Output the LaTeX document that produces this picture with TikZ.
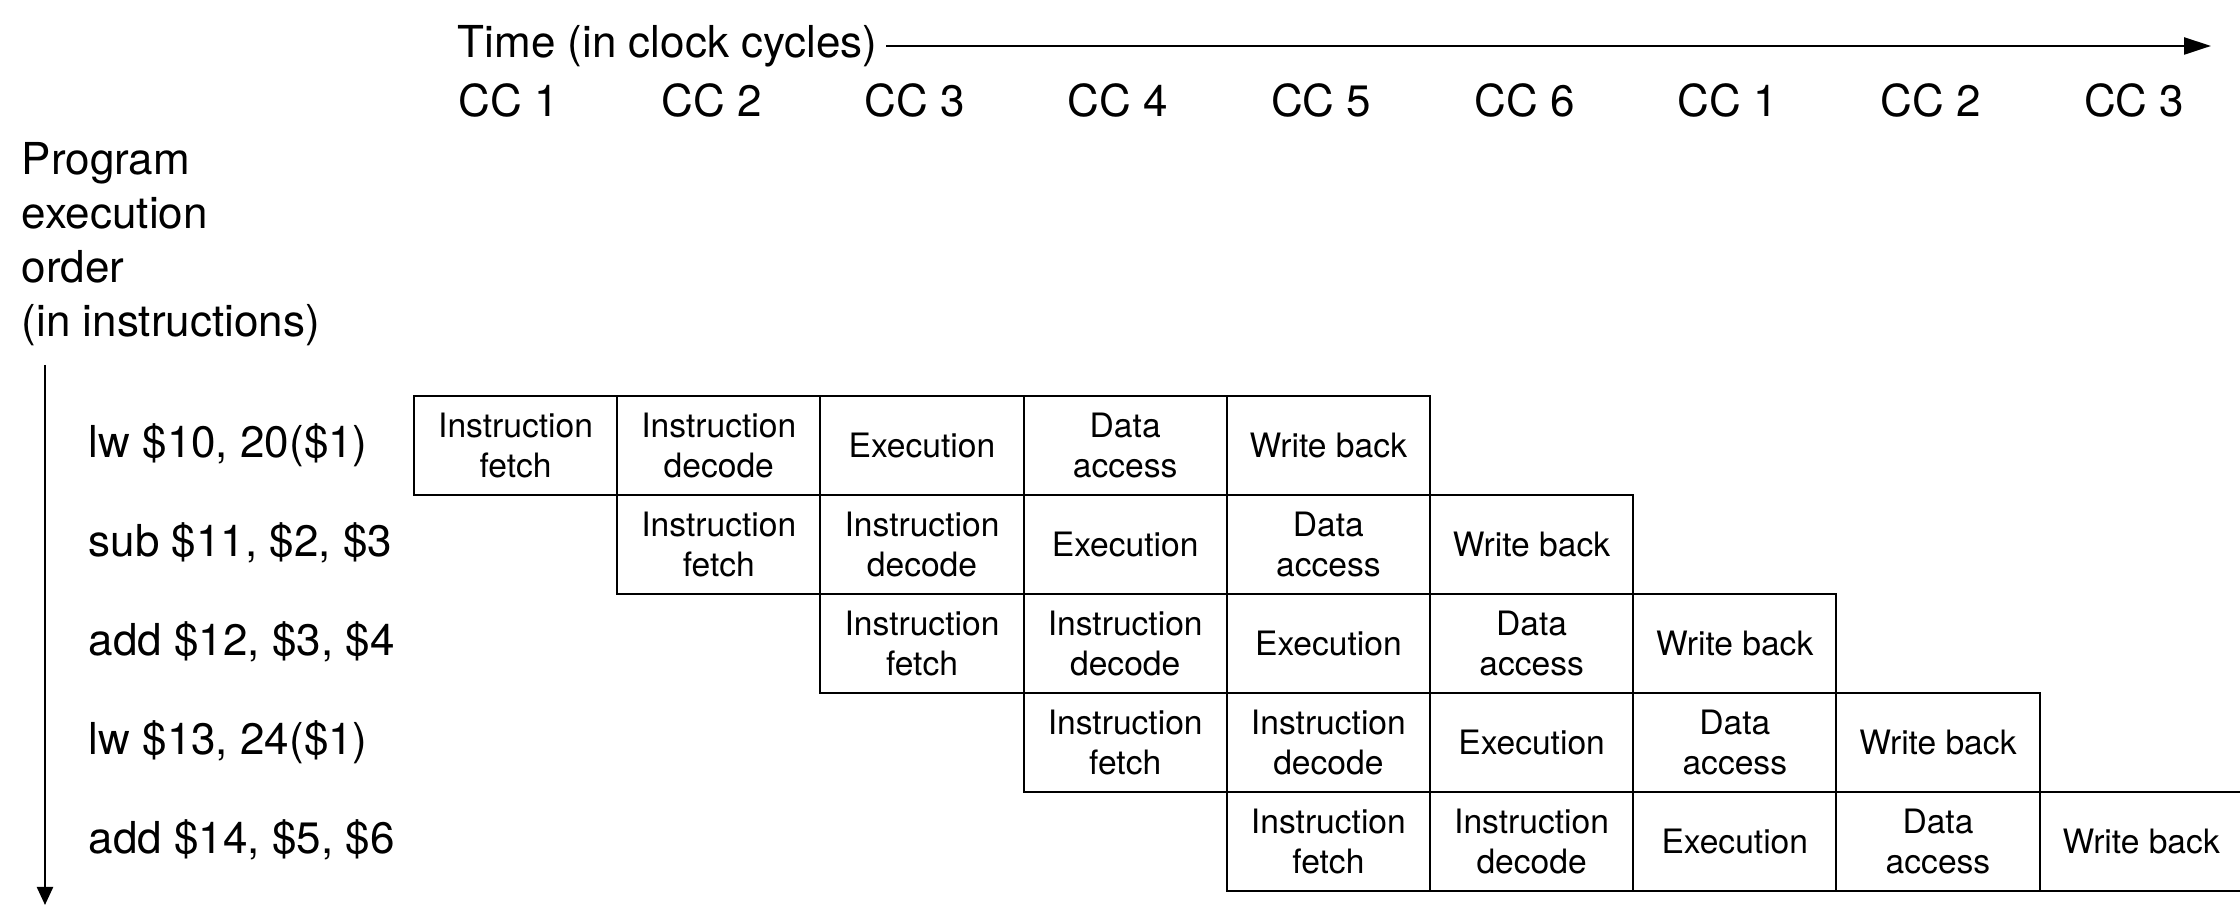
\documentclass[tikz,border=0pt]{standalone}
\usepackage{fontspec}
\setmainfont{TeX Gyre Heros}
\usetikzlibrary{arrows.meta}
\begin{document}
\begin{tikzpicture}[x=0.25pt,y=-0.25pt,
  lbl/.style={font=\fontsize{11}{13.5}\selectfont, inner sep=0pt},
  cc/.style={lbl, anchor=base},
  instr/.style={lbl, anchor=base west},
  stagebox/.style={draw, line width=0.5pt, minimum width=50.8pt, minimum height=24.75pt,
    inner sep=0pt, align=center, font=\fontsize{8.4}{10}\selectfont},
  axis/.style={line width=0.6pt}]
\useasboundingbox (0,0) rectangle (2240,905);

% time axis
\node[lbl, anchor=base west] (time) at (457,58) {Time (in clock cycles)};
\coordinate (tend) at (2211,46);
\draw[axis, -{Triangle[length=6.75pt,width=4.25pt]}] ([xshift=2pt]time.east |- tend) -- (tend);

% clock cycle labels
\foreach \t [count=\i from 0] in {CC 1,CC 2,CC 3,CC 4,CC 5,CC 6,CC 1,CC 2,CC 3}
  \node[cc] (cc\i) at ({508.5+203.2*\i},117) {\t};

% program order label
\node[lbl, anchor=base west] (order) at (21,175)
  {\begin{tabular}[t]{@{}l@{}}Program\\execution\\order\\(in instructions)\end{tabular}};
\coordinate (vtop) at (45,365);
\coordinate (vbot) at (45,905);
\draw[axis, -{Triangle[length=4.5pt,width=4pt]}] (vtop) -- (vbot);

% instructions
\foreach \txt [count=\r from 0] in {lw \$10{,} 20(\$1),sub \$11{,} \$2{,} \$3,add \$12{,} \$3{,} \$4,lw \$13{,} 24(\$1),add \$14{,} \$5{,} \$6}
  \node[instr] (ins\r) at (88,{457.5+99*\r}) {\txt};

% pipeline stages
\foreach \r in {0,...,4}{
  \foreach \s/\txt in {0/{Instruction\\fetch},1/{Instruction\\decode},2/{Execution},3/{Data\\access},4/{Write back}}{
    \pgfmathsetmacro{\col}{\r+\s}
    \node[stagebox] (st\r\s) at ({515.6+203.2*\col},{445.5+99*\r}) {\txt};
  }
}
\end{tikzpicture}
\end{document}
